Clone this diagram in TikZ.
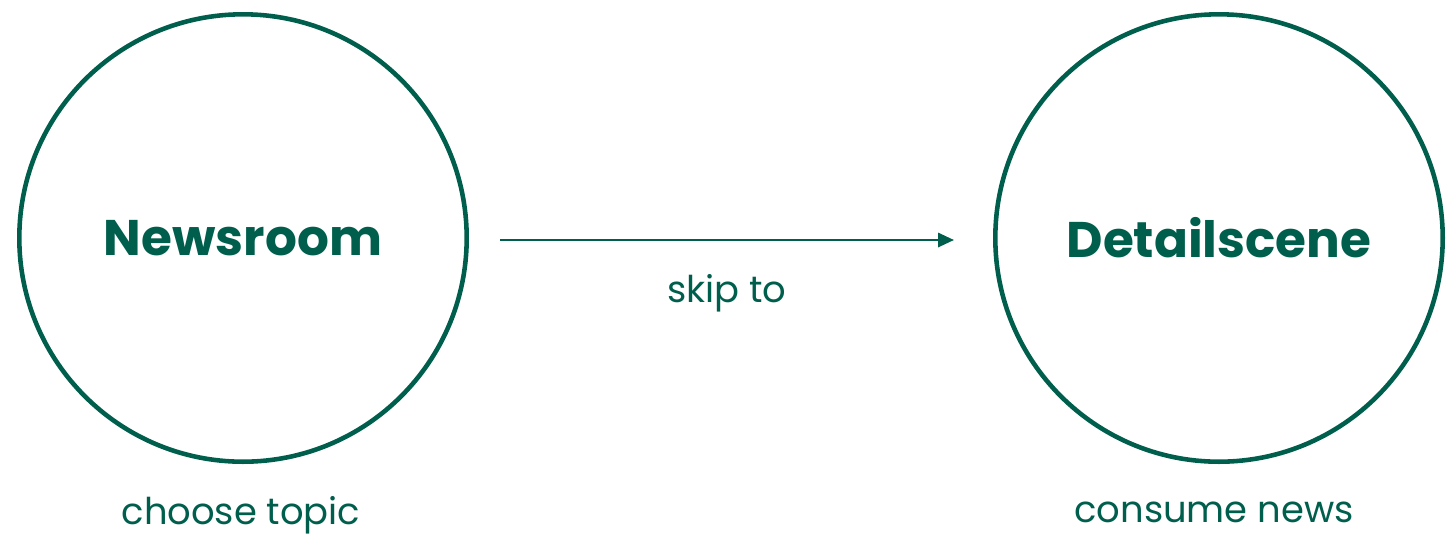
\documentclass[tikz,border=0pt]{standalone}
\usepackage{fontspec}
\setmainfont{Poppins}
\usetikzlibrary{arrows.meta,positioning}
\definecolor{newsgreen}{HTML}{005E4C}
\begin{document}
\begin{tikzpicture}[x=0.02cm,y=-0.02cm,>={Triangle[length=9pt,width=8pt]},
 scene/.style={draw=newsgreen,circle,line width=2.6pt,minimum size=8.95cm,inner sep=0pt,
   text=newsgreen,font=\fontsize{28.5}{28.5}\selectfont\bfseries},
 lbl/.style={text=newsgreen,font=\fontsize{21}{21}\selectfont}]
\useasboundingbox (0,0) rectangle (1452,539);
\node[scene] (news) at (243,238) {Newsroom};
\node[scene] (detail) at (1219,238) {Detailscene};
\node[lbl] (choose) at (241,515) {choose topic};
\node[lbl] (consume) at (1214,512) {consume news};
\coordinate (from) at (500,240);
\coordinate (to) at (954,240);
\draw[->,draw=newsgreen,fill=newsgreen,line width=1.4pt] (from) -- (to)
  node[lbl,midway,below=0.55cm] (skip) {skip to};
\end{tikzpicture}
\end{document}
